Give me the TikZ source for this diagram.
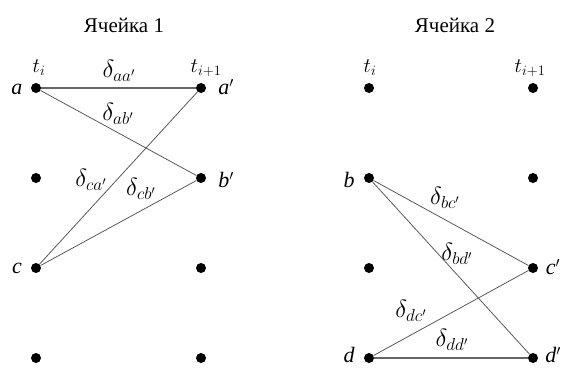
\documentclass[tikz,border=0pt]{standalone}
\usepackage{fontspec}
\setmainfont{Liberation Serif}
\begin{document}
\begin{tikzpicture}[x=1pt,y=-1pt,
  dot/.style={circle,fill=black,inner sep=0pt,minimum size=10pt},
  lbl/.style={font=\fontsize{22}{26}\selectfont\itshape,inner sep=1pt},
  dl/.style={font=\fontsize{24}{28}\selectfont,inner sep=0pt},
  ttl/.style={font=\fontsize{21}{25}\selectfont},
  edge/.style={draw=black!65,line width=0.8pt},
  edgeh/.style={draw=black!60,line width=1.4pt}]
\useasboundingbox (0,0) rectangle (567,367);
% titles
\node[ttl] (T1) at (124,25) {Ячейка 1};
\node[ttl] (T2) at (455,25) {Ячейка 2};
% cell 1 dots
\node[dot] (a)  at (36,88) {};
\node[dot] (ap) at (201,88) {};
\node[dot] (b1) at (36,178) {};
\node[dot] (bp) at (201,178) {};
\node[dot] (c)  at (36,268) {};
\node[dot] (c1) at (201,268) {};
\node[dot] (d1) at (36,358) {};
\node[dot] (d2) at (201,358) {};
% cell 2 dots
\node[dot] (e1) at (369,88) {};
\node[dot] (e2) at (533,88) {};
\node[dot] (b)  at (369,178) {};
\node[dot] (f2) at (533,178) {};
\node[dot] (g1) at (369,268) {};
\node[dot] (cp) at (533,268) {};
\node[dot] (d)  at (369,358) {};
\node[dot] (dp) at (533,358) {};
% labels cell 1
\node[lbl] (ti1) at (39,68) {$t_i$};
\node[lbl] (tj1) at (206,68) {$t_{i+1}$};
\node[lbl] (la) at (17,89) {a};
\node[lbl] (lap) at (226,87) {a$'$};
\node[lbl] (lbp) at (226,180) {b$'$};
\node[lbl] (lc) at (17,268) {c};
% labels cell 2
\node[lbl] (ti2) at (370,68) {$t_i$};
\node[lbl] (tj2) at (530,68) {$t_{i+1}$};
\node[lbl] (lb) at (349,180) {b};
\node[lbl] (lcp) at (553,267) {c$'$};
\node[lbl] (ld) at (349,355) {d};
\node[lbl] (ldp) at (553,355) {d$'$};
% edges cell 1
\draw[edgeh] (a) -- (ap);
\draw[edge] (a) -- (bp);
\draw[edge] (c) -- (ap);
\draw[edge] (c) -- (bp);
% edges cell 2
\draw[edge] (b) -- (cp);
\draw[edge] (b) -- (dp);
\draw[edge] (d) -- (cp);
\draw[edgeh] (d) -- (dp);
% delta labels
\node[dl] (l1) at (119,71) {$\delta_{aa'}$};
\node[dl] (l2) at (118,114) {$\delta_{ab'}$};
\node[dl] (l3) at (91,180) {$\delta_{ca'}$};
\node[dl] (l4) at (141,189) {$\delta_{cb'}$};
\node[dl] (l5) at (445,198) {$\delta_{bc'}$};
\node[dl] (l6) at (457,254) {$\delta_{bd'}$};
\node[dl] (l7) at (411,311) {$\delta_{dc'}$};
\node[dl] (l8) at (452,340) {$\delta_{dd'}$};
\end{tikzpicture}
\end{document}
